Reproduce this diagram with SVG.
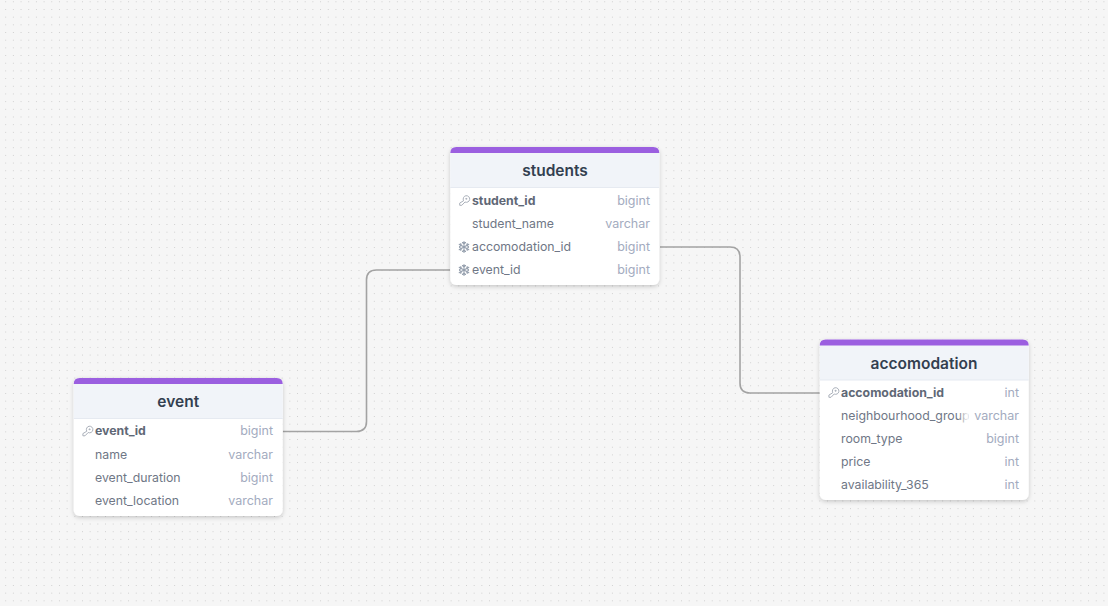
<svg xmlns="http://www.w3.org/2000/svg" width="1108" height="606" viewBox="0 0 1108 606">
<style>
.t{font-family:Inter,"Liberation Sans",sans-serif;font-size:15.5px;font-weight:600;fill:#333f50;text-anchor:middle}
.c{font-family:Inter,"Liberation Sans",sans-serif;font-size:12.3px;fill:#6f7786}
.p{font-weight:700;fill:#5f6876}
.y{font-family:Inter,"Liberation Sans",sans-serif;font-size:12.5px;fill:#a3abc0;text-anchor:end}
.e{fill:none;stroke:#a3a3a3;stroke-width:1.6}
.i{fill:none;stroke:#aab0ba;stroke-width:1;stroke-linecap:round;stroke-linejoin:round}
.s{fill:none;stroke:#96a0ae;stroke-width:1.1;stroke-linecap:round;stroke-linejoin:round}
</style>
<defs>
<pattern id="dots" x="5.2" y="1.3" width="7.68" height="7.68" patternUnits="userSpaceOnUse"><circle cx="0.4" cy="0.4" r="0.57" fill="#cdcdcd"/></pattern>
<filter id="sh" x="-10%" y="-10%" width="120%" height="125%"><feDropShadow dx="0" dy="1.5" stdDeviation="2.2" flood-color="#000" flood-opacity="0.2"/></filter>
<g id="key"><path class="i" d="M-0.6-0.6A3.3 3.3 0 1 1 1 1L-2.2 4.300H-4.300V2.500Z"/><circle cx="2.200" cy="-2.200" r="0.5" class="i"/></g>
<g id="flake"><path class="s" d="M0-5.500V5.500M-4.800-2.700L4.800 2.700M-4.800 2.700L4.800-2.700M-1.500-4.500L0-3L1.500-4.500M-1.500 4.500L0 3L1.500 4.500M-4.500-.6L-2.600-1.500L-3.200-3.400M4.500.6L2.600 1.500L3.200 3.400M-4.500.6L-2.600 1.500L-3.200 3.400M4.500-.6L2.600-1.500L3.200-3.400"/></g>
<linearGradient id="fade" x1="0" x2="1"><stop offset="0" stop-color="#fff" stop-opacity="0"/><stop offset="1" stop-color="#fff"/></linearGradient>
</defs>
<rect width="1108" height="606" fill="#f6f6f6"/>
<rect width="1108" height="606" fill="url(#dots)"/>
<g id="connectors">
<path class="e" d="M283 431.500H356.500Q366.500 431.500 366.500 421.500V280Q366.500 270 376.500 270H450"/>
<path class="e" d="M660 247H730Q740 247 740 257V383Q740 393 750 393H820"/>
</g>
<g id="students" transform="translate(450.300,147)">
<rect width="209" height="138" rx="6" fill="#fff" filter="url(#sh)"/>
<path d="M0 40.500V6Q0 0 6 0H203Q209 0 209 6V40.500Z" fill="#f1f4f9"/><rect y="40" width="209" height="1" fill="#e6eaf1"/><path d="M0 6Q0 0 6 0H203Q209 0 209 6Z" fill="#9b5fe0"/>
<text class="t" x="104.700" y="29">students</text>
<use href="#key" x="13.700" y="54"/><text class="c p" x="21.700" y="58">student_id</text><text class="y" x="199.700" y="58">bigint</text>
<text class="c" x="21.700" y="81">student_name</text><text class="y" x="199.700" y="81">varchar</text>
<use href="#flake" x="13.700" y="100"/><text class="c" x="21.700" y="104">accomodation_id</text><text class="y" x="199.700" y="104">bigint</text>
<use href="#flake" x="13.700" y="123"/><text class="c" x="21.700" y="127">event_id</text><text class="y" x="199.700" y="127">bigint</text>
</g>
<g id="event" transform="translate(73.700,378)">
<rect width="209" height="138" rx="6" fill="#fff" filter="url(#sh)"/>
<path d="M0 40.500V6Q0 0 6 0H203Q209 0 209 6V40.500Z" fill="#f1f4f9"/><rect y="40" width="209" height="1" fill="#e6eaf1"/><path d="M0 6Q0 0 6 0H203Q209 0 209 6Z" fill="#9b5fe0"/>
<text class="t" x="104.500" y="29">event</text>
<use href="#key" x="13.500" y="53.500"/><text class="c p" x="21.300" y="57">event_id</text><text class="y" x="199.300" y="57">bigint</text>
<text class="c" x="21.300" y="81">name</text><text class="y" x="199.300" y="81">varchar</text>
<text class="c" x="21.300" y="104">event_duration</text><text class="y" x="199.300" y="104">bigint</text>
<text class="c" x="21.300" y="127">event_location</text><text class="y" x="199.300" y="127">varchar</text>
</g>
<g id="accomodation" transform="translate(819.700,339.500)">
<rect width="209" height="160.500" rx="6" fill="#fff" filter="url(#sh)"/>
<path d="M0 40.500V6Q0 0 6 0H203Q209 0 209 6V40.500Z" fill="#f1f4f9"/><rect y="40" width="209" height="1" fill="#e6eaf1"/><path d="M0 6Q0 0 6 0H203Q209 0 209 6Z" fill="#9b5fe0"/>
<text class="t" x="104.300" y="29">accomodation</text>
<use href="#key" x="13.500" y="53.500"/><text class="c p" x="21.300" y="57.500">accomodation_id</text><text class="y" x="199.300" y="57.500">int</text>
<text class="c" x="21.300" y="80.500">neighbourhood_group</text><rect x="138" y="68" width="11" height="16" fill="url(#fade)"/><rect x="149" y="68" width="6" height="16" fill="#fff"/><text class="y" x="199.300" y="80.500">varchar</text>
<text class="c" x="21.300" y="103.500">room_type</text><text class="y" x="199.300" y="103.500">bigint</text>
<text class="c" x="21.300" y="126.500">price</text><text class="y" x="199.300" y="126.500">int</text>
<text class="c" x="21.300" y="149.500">availability_365</text><text class="y" x="199.300" y="149.500">int</text>
</g>
</svg>
